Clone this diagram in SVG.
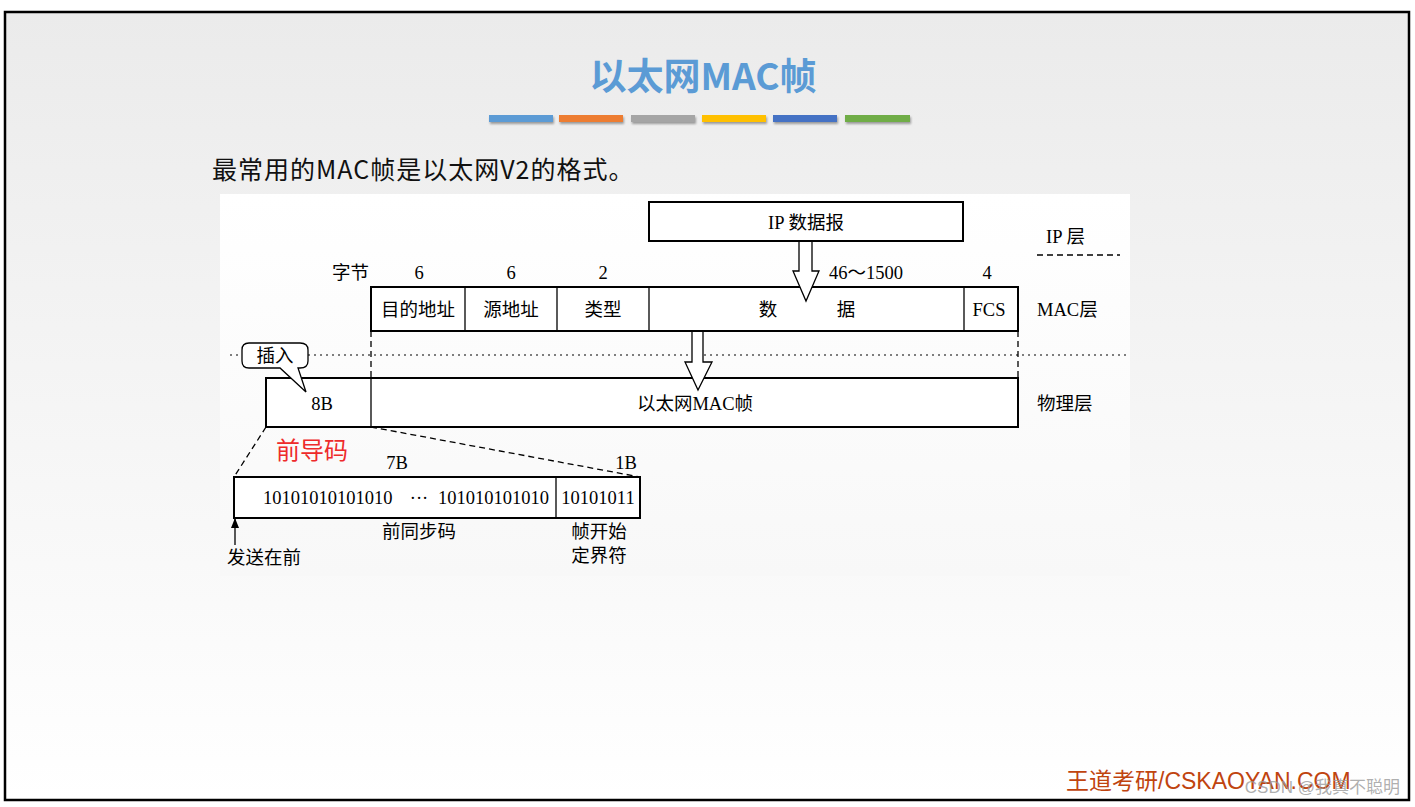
<svg xmlns="http://www.w3.org/2000/svg" width="1415" height="807" viewBox="0 0 1415 807">
<defs>
<linearGradient id="bg" x1="0" y1="0" x2="0" y2="1">
<stop offset="0" stop-color="#ebebeb"/>
<stop offset="1" stop-color="#ffffff"/>
</linearGradient>
<linearGradient id="pic" x1="0" y1="0" x2="0" y2="1">
<stop offset="0" stop-color="#ffffff"/>
<stop offset="1" stop-color="#f8f8f8"/>
</linearGradient>
<marker id="tip" markerWidth="10" markerHeight="8" refX="10" refY="4" orient="auto" markerUnits="userSpaceOnUse" viewBox="0 0 10 8">
<path d="M0,0 L10,4 L0,8 Z" fill="#000"/>
</marker>
<filter id="sh" x="-5%" y="-50%" width="110%" height="250%">
<feDropShadow dx="1" dy="2" stdDeviation="1.2" flood-color="#000" flood-opacity="0.35"/>
</filter>
</defs>
<style>
.box{fill:#fff;stroke:#000;stroke-width:2}
.ln{stroke:#000;stroke-width:1.3;fill:none}
.dash{stroke:#000;stroke-width:1.3;fill:none;stroke-dasharray:6,4}
.dot{stroke:#000;stroke-width:1.2;fill:none;stroke-dasharray:2,4}
.t{font-family:"Liberation Serif","Noto Sans CJK SC",serif;font-size:18.5px;fill:#000}
.c{text-anchor:middle}
.arrow{fill:#fff;stroke:#000;stroke-width:1.3}
</style>
<rect x="0" y="0" width="1415" height="807" fill="#ffffff"/>
<rect x="5" y="12" width="1404" height="788" fill="url(#bg)" stroke="#000" stroke-width="2.5"/>

<g id="title">
<text x="703" y="90" text-anchor="middle" font-family="'Noto Sans CJK SC','Liberation Sans',sans-serif" font-size="37" font-weight="bold" fill="#5b9bd5">以太网MAC帧</text>
<g filter="url(#sh)">
<rect x="489" y="115" width="64" height="7" fill="#5b9bd5"/>
<rect x="559" y="115" width="64" height="7" fill="#ed7d31"/>
<rect x="631" y="115" width="64" height="7" fill="#a5a5a5"/>
<rect x="702" y="115" width="64" height="7" fill="#ffc000"/>
<rect x="773" y="115" width="64" height="7" fill="#4472c4"/>
<rect x="845" y="115" width="65" height="7" fill="#70ad47"/>
</g>
</g>

<g id="subtitle">
<text x="212" y="179" font-family="'Noto Sans CJK SC','Liberation Sans',sans-serif" font-size="25" letter-spacing="1" fill="#111">最常用的MAC帧是以太网V2的格式。</text>
</g>

<rect x="220" y="194" width="910" height="382" fill="url(#pic)"/>

<g id="ip-datagram">
<rect class="box" x="649" y="202" width="314" height="39"/>
<text class="t c" x="806" y="229">IP 数据报</text>
</g>
<g id="ip-layer">
<text class="t" x="1046" y="243">IP 层</text>
</g>

<g id="byte-labels">
<text class="t" x="332" y="279">字节</text>
<text class="t c" x="419" y="279">6</text>
<text class="t c" x="511" y="279">6</text>
<text class="t c" x="603" y="279">2</text>
<text class="t c" x="866" y="279">46～1500</text>
<text class="t c" x="987" y="279">4</text>
</g>

<g id="mac-frame">
<rect class="box" x="371" y="287" width="647" height="44"/>
<line class="ln" x1="465" y1="287" x2="465" y2="331"/>
<line class="ln" x1="557" y1="287" x2="557" y2="331"/>
<line class="ln" x1="649" y1="287" x2="649" y2="331"/>
<line class="ln" x1="964" y1="287" x2="964" y2="331"/>
<text class="t c" x="418" y="316">目的地址</text>
<text class="t c" x="511" y="316">源地址</text>
<text class="t c" x="603" y="316">类型</text>
<text class="t c" x="768" y="316">数</text>
<text class="t c" x="846" y="316">据</text>
<text class="t c" x="989" y="316">FCS</text>
</g>
<g id="mac-layer">
<text class="t" x="1037" y="316">MAC层</text>
</g>

<g id="physical-frame">
<rect class="box" x="266" y="378" width="752" height="49"/>
<line class="ln" x1="371" y1="378" x2="371" y2="427"/>
<text class="t c" x="322" y="410">8B</text>
<text class="t c" x="695" y="410">以太网MAC帧</text>
</g>
<g id="physical-layer">
<text class="t" x="1037" y="410">物理层</text>
</g>

<g id="preamble-label">
<text x="276" y="459" font-family="'Noto Sans CJK SC','Liberation Sans',sans-serif" font-size="24" fill="#ee2b2b">前导码</text>
</g>

<g id="preamble">
<text class="t c" x="397" y="469">7B</text>
<text class="t c" x="626" y="469">1B</text>
<rect class="box" x="234" y="477" width="406" height="41"/>
<line class="ln" x1="556" y1="477" x2="556" y2="518"/>
<text class="t" x="263" y="504" font-size="19">10101010101010</text>
<text class="t c" x="419" y="504">···</text>
<text class="t" x="438" y="504" font-size="19">101010101010</text>
<text class="t c" x="598" y="504" font-size="19">10101011</text>
<text class="t c" x="419" y="538">前同步码</text>
<text class="t c" x="599" y="538">帧开始</text>
<text class="t c" x="599" y="562">定界符</text>
<text class="t" x="227" y="564">发送在前</text>
</g>

<g id="connectors">
<line class="dot" x1="230" y1="355" x2="1126" y2="355"/>
<line class="dash" x1="1037" y1="255" x2="1120" y2="255"/>
<line class="dash" x1="371" y1="331" x2="371" y2="378"/>
<line class="dash" x1="1018" y1="331" x2="1018" y2="378"/>
<line class="dash" x1="266" y1="427" x2="234" y2="477"/>
<line class="dash" x1="371" y1="427" x2="640" y2="477"/>
<line class="ln" x1="235" y1="545" x2="235" y2="518" marker-end="url(#tip)"/>
<path class="arrow" d="M799,242 L799,271 L793,271 L806,301 L819,271 L812,271 L812,242"/>
<path class="arrow" d="M692,332 L692,362 L685,362 L698,390 L712,362 L703,362 L703,332"/>
</g>

<g id="insert-callout">
<path d="M249,343 L300,343 Q308,343 308,350 L308,361 Q308,368 300,368 L298,368 L306,392 L280,368 L249,368 Q242,368 242,361 L242,350 Q242,343 249,343 Z" fill="#fff" stroke="#000" stroke-width="1.3"/>
<text class="t c" x="275" y="362">插入</text>
</g>

<g id="footer">
<text x="1066" y="789" font-family="'Liberation Sans','Noto Sans CJK SC',sans-serif" font-size="23" fill="#c0440f">王道考研/CSKAOYAN.COM</text>
<text x="1400" y="793" text-anchor="end" font-family="'Liberation Sans','Noto Sans CJK SC',sans-serif" font-size="17" fill="#9a9a9a" fill-opacity="0.8">CSDN @我真不聪明</text>
</g>
</svg>
